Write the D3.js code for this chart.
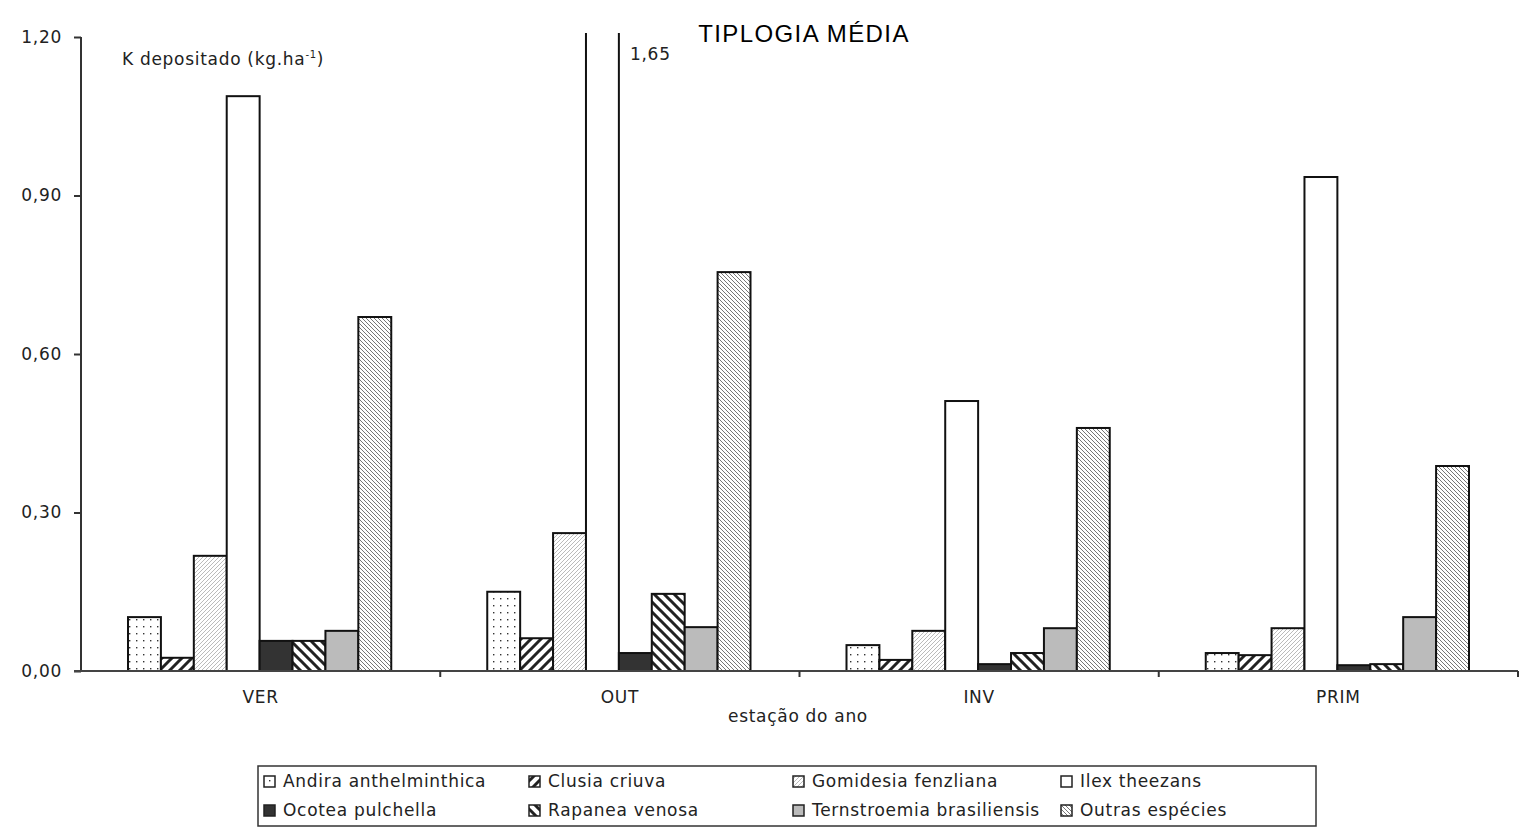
<!DOCTYPE html>
<html><head><meta charset="utf-8">
<script src="https://cdn.jsdelivr.net/npm/d3@7"></script>
<style>body{margin:0;background:#fff}svg{display:block;font-family:"DejaVu Sans",sans-serif}
.t{font-family:"DejaVu Sans",sans-serif;font-size:17px;letter-spacing:0.7px;fill:#222}</style>
</head><body>
<svg id="c" width="1528" height="827"></svg>
<script>
const seasons = ["VER","OUT","INV","PRIM"];
const species = ["Andira anthelminthica","Clusia criuva","Gomidesia fenzliana","Ilex theezans","Ocotea pulchella","Rapanea venosa","Ternstroemia brasiliensis","Outras espécies"];
const andira = [0.102,0.150,0.049,0.034];
const clusia = [0.025,0.062,0.021,0.030];
const gomidesia = [0.218,0.261,0.076,0.081];
const ilex = [1.088,1.65,0.511,0.935];
const ocotea = [0.057,0.034,0.013,0.011];
const rapanea = [0.057,0.146,0.034,0.013];
const ternstroemia = [0.076,0.083,0.081,0.102];
const outras = [0.670,0.755,0.460,0.388];
const yTicks = [0,0.3,0.6,0.9,1.2];
const seriesVals = [andira,clusia,gomidesia,ilex,ocotea,rapanea,ternstroemia,outras];

const svg = d3.select("#c");
const defs = svg.append("defs");
function pat(id,size,build){const p=defs.append("pattern").attr("id",id).attr("patternUnits","userSpaceOnUse").attr("width",size).attr("height",size);p.append("rect").attr("width",size).attr("height",size).attr("fill","#fff");build(p);}
pat("pDots",7,p=>p.append("rect").attr("x",3).attr("y",3).attr("width",1.4).attr("height",1.4).attr("fill","#333"));
pat("pThickF",10,p=>{p.append("path").attr("d","M-5,5L5,-5M0,10L10,0M5,15L15,5").attr("stroke","#222").attr("stroke-width",3);});
pat("pThinF",4,p=>{p.append("path").attr("d","M-1,1L1,-1M0,4L4,0M3,5L5,3").attr("stroke","#bbb").attr("stroke-width",1);});
pat("pThickB",10,p=>{p.append("path").attr("d","M-5,5L5,15M0,0L10,10M5,-5L15,5").attr("stroke","#222").attr("stroke-width",3);});
pat("pThinB",4,p=>{p.append("path").attr("d","M-1,3L1,5M0,0L4,4M3,-1L5,1").attr("stroke","#777").attr("stroke-width",1);});
const fills = ["url(#pDots)","url(#pThickF)","url(#pThinF)","#fff","#333","url(#pThickB)","#bbb","url(#pThinB)"];

const x0 = 81, x1 = 1518, yTop = 37, yBot = 671;
const y = d3.scaleLinear().domain([0,1.2]).range([yBot,yTop]);
const xg = d3.scaleBand().domain(seasons).range([x0,x1]).padding(0);
const xs = d3.scaleBand().domain(species).range([47, xg.bandwidth()-49]).padding(0);

defs.append("clipPath").attr("id","clip").append("rect").attr("x",x0).attr("y",33).attr("width",x1-x0).attr("height",yBot-33);

const gBars = svg.append("g").attr("clip-path","url(#clip)");
seasons.forEach((s,i)=>{
  species.forEach((sp,j)=>{
    const v = seriesVals[j][i];
    gBars.append("rect").attr("x",xg(s)+xs(sp)).attr("y",y(v)).attr("width",xs.bandwidth()).attr("height",yBot-y(v))
      .attr("fill",fills[j]).attr("stroke","#111").attr("stroke-width",2);
  });
});

// y axis
const ya = svg.append("g").attr("transform",`translate(${x0},0)`).call(d3.axisLeft(y).tickValues(yTicks).tickSize(7).tickFormat(d=>d3.format(".2f")(d).replace(".",",")));
ya.select(".domain").attr("stroke","#333").attr("stroke-width",2).attr("d",`M0,${yBot}V${yTop}`);
ya.selectAll(".tick line").attr("stroke","#333").attr("stroke-width",2);
ya.selectAll(".tick text").attr("class","t").attr("x",-19).attr("font-size",null).attr("font-family",null).attr("fill",null);

// x axis
const xa = svg.append("g").attr("transform",`translate(0,${yBot})`);
xa.append("line").attr("x1",x0-7).attr("x2",x1).attr("stroke","#444").attr("stroke-width",2);
seasons.forEach((s,i)=>{
  const bx = xg(s)+xg.bandwidth();
  xa.append("line").attr("x1",bx).attr("x2",bx).attr("y1",0).attr("y2",6).attr("stroke","#333").attr("stroke-width",2);
  xa.append("text").attr("class","t").attr("x",xg(s)+xg.bandwidth()/2).attr("y",32).attr("text-anchor","middle").text(s);
});
svg.append("text").attr("class","t").attr("x",798).attr("y",722).attr("text-anchor","middle").text("estação do ano");

svg.append("text").attr("x",804).attr("y",42).attr("text-anchor","middle").attr("font-size",24).attr("letter-spacing",1.4).attr("font-family","Liberation Sans, Arial, sans-serif").attr("fill","#000").text("TIPLOGIA MÉDIA");
svg.append("text").attr("class","t").attr("x",630).attr("y",60).text("1,65");
const kt = svg.append("text").attr("class","t").attr("x",122).attr("y",65);
kt.append("tspan").text("K depositado (kg.ha");
kt.append("tspan").attr("dy",-7).attr("font-size",10).text("-1");
kt.append("tspan").attr("dy",7).text(")");

// legend
svg.append("rect").attr("x",258).attr("y",766).attr("width",1058).attr("height",60).attr("fill","#fff").attr("stroke","#333").attr("stroke-width",1.5);
const colX = [264,529,793,1061], rowY = [781,810];
species.forEach((sp,j)=>{
  const cx = colX[j%4], cy = rowY[Math.floor(j/4)];
  svg.append("rect").attr("x",cx).attr("y",cy-5).attr("width",11).attr("height",11).attr("fill",fills[j]).attr("stroke","#222").attr("stroke-width",1.5);
  svg.append("text").attr("class","t").attr("x",cx+19).attr("y",cy+6).text(sp);
});
</script>
</body></html>
